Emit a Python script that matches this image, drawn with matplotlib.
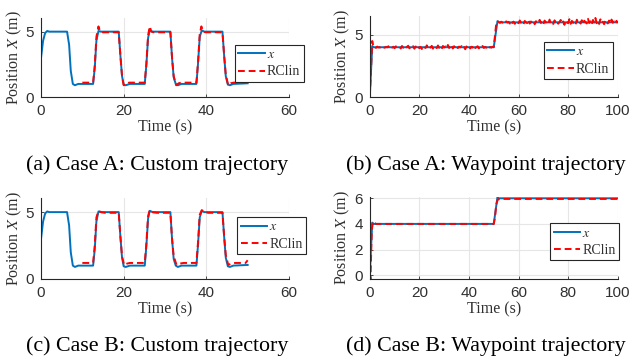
import numpy as np
import matplotlib.pyplot as plt

plt.rcParams['mathtext.fontset'] = 'stix'

BLUE = '#0072BD'
RED = '#FF0000'

# ---- custom trajectory (cases A and B), breakpoints
t_custom = [0, 0.5, 1, 1.5, 2, 3, 6.3, 6.8, 7.2, 7.7, 8.2, 9, 12.6, 13.0, 13.4, 13.9,
            14.5, 15.5, 18.8, 19.2, 19.6, 20.0, 20.5, 21.5, 25.1, 25.5, 25.9, 26.3, 27.0,
            28, 31.3, 31.7, 32.1, 32.6, 33.1, 34, 37.6, 38.0, 38.4, 38.9, 39.5, 40.5,
            43.9, 44.3, 44.7, 45.2, 45.7, 46.5, 50]
x_custom = [3.0, 4.3, 4.9, 5.05, 5.0, 5.0, 5.0, 4.0, 2.0, 1.0, 0.9, 1.0, 1.0, 2.2, 4.3, 5.05,
            5.0, 5.0, 5.0, 3.2, 1.6, 0.95, 0.9, 1.0, 1.0, 2.5, 4.5, 5.1,
            5.0, 5.0, 5.0, 3.0, 1.5, 1.0, 0.9, 1.0, 1.0, 2.6, 4.6, 5.1, 5.0, 5.0,
            5.0, 3.2, 1.6, 0.95, 0.9, 1.0, 1.05]

t_rc_a = [10, 12.6, 13.0, 13.4, 13.9, 14.3, 15, 18.8, 19.2, 19.6, 20.0, 20.6, 21.3, 25.1,
          25.5, 25.9, 26.3, 26.7, 27.3, 31.3, 31.7, 32.1, 32.7, 33.3, 34, 37.6, 38.0, 38.4,
          38.8, 39.2, 39.9, 43.9, 44.3, 44.7, 45.3, 45.9, 46.6, 49.6]
x_rc_a = [1.1, 1.1, 2.4, 4.6, 5.4, 5.0, 4.95, 4.95, 3.2, 1.6, 0.9, 1.0, 1.1, 1.1,
          2.6, 4.7, 5.4, 5.0, 4.95, 4.95, 3.0, 1.6, 0.9, 1.05, 1.1, 1.1, 2.7, 4.8,
          5.4, 5.0, 4.95, 4.95, 3.2, 1.7, 0.9, 1.05, 1.1, 1.1]

t_rc_c = [10, 12.6, 13.0, 13.4, 13.9, 14.5, 15.5, 18.8, 19.2, 19.6, 20.1, 20.8, 21.5, 25.1,
          25.5, 25.9, 26.3, 27.0, 28, 31.3, 31.7, 32.1, 32.8, 33.6, 34.5, 37.6, 38.0, 38.4,
          38.9, 39.6, 40.5, 43.9, 44.3, 44.7, 45.3, 46.0, 47, 49.5, 50]
x_rc_c = [1.2, 1.2, 2.5, 4.6, 5.1, 5.0, 4.95, 4.95, 3.2, 1.7, 1.05, 1.15, 1.2, 1.2,
          2.7, 4.7, 5.15, 5.0, 4.95, 4.95, 3.0, 1.7, 1.05, 1.15, 1.2, 1.2, 2.8, 4.8,
          5.15, 5.0, 4.95, 4.95, 3.2, 1.8, 1.05, 1.15, 1.2, 1.2, 1.4]

# ---- waypoint trajectory
t_way = [0, 1, 1.5, 50, 51.5, 52, 100]
x_way = [0, 4.1, 4.0, 4.0, 6.1, 6.0, 6.0]

# case A RClin: jittery around the waypoints (sampled every 0.5 s)
rc_b_seg1 = [4.02, 3.95, 4.05, 3.98, 4.00, 3.93, 4.06, 4.01, 3.96, 4.03,
             3.99, 4.08, 3.94, 4.02, 3.97, 4.04, 3.92, 4.07, 4.00, 3.95,
             4.03, 3.90, 4.10, 3.96, 4.05, 3.93, 4.02, 4.12, 3.91, 4.04,
             3.97, 4.08, 3.88, 4.06, 3.99, 4.13, 3.92, 4.03, 3.86, 4.09,
             4.01, 3.94, 4.15, 3.90, 4.05, 3.97, 4.11, 3.89, 4.02, 4.07,
             3.93, 4.14, 3.95, 4.04, 3.87, 4.10, 3.98, 4.06, 3.91, 4.18,
             3.94, 4.03, 4.21, 3.90, 4.08, 3.96, 4.12, 3.93, 4.05, 3.99,
             4.09, 3.92, 4.02, 3.84, 4.06, 3.95, 4.11, 3.90, 4.04, 3.97,
             4.13, 3.93, 4.01, 4.08, 3.91, 4.05, 3.98, 4.10, 3.94, 4.03,
             3.96, 4.07, 3.92, 4.02, 3.97, 4.04]
rc_b_seg2 = [6.02, 5.96, 6.05, 5.98, 6.03, 5.92, 6.08, 5.99, 6.04, 5.90,
             6.12, 5.95, 6.06, 5.88, 6.10, 6.01, 5.93, 6.15, 5.97, 6.04,
             5.86, 6.11, 6.00, 5.94, 6.18, 5.90, 6.07, 5.97, 6.13, 5.85,
             6.09, 6.02, 5.92, 6.20, 5.95, 6.06, 5.83, 6.14, 5.99, 6.08,
             5.91, 6.22, 5.94, 6.05, 5.87, 6.16, 5.98, 6.10, 5.89, 6.03,
             6.19, 5.92, 6.07, 5.80, 6.15, 6.00, 5.93, 6.25, 5.88, 6.12,
             5.96, 6.06, 5.84, 6.21, 5.97, 6.09, 5.90, 6.17, 5.86, 6.13,
             6.02, 5.91, 6.28, 5.95, 6.08, 5.82, 6.19, 5.99, 6.35, 5.93,
             6.11, 5.87, 6.24, 5.96, 6.05, 5.85, 6.18, 6.00, 5.91, 6.14,
             5.88, 6.22, 5.97, 6.07, 5.90, 6.12, 5.95]
t_rc_b = [0, 1, 1.5] + list(np.arange(2, 50, 0.5)) + [50, 51, 51.5] + list(np.arange(52, 100.5, 0.5))
x_rc_b = [0, 4.5, 4.0] + rc_b_seg1 + [4.0, 5.9, 6.1] + rc_b_seg2

# case B RClin: smooth
t_rc_d = [0, 0.3, 0.8, 1.3, 1.8, 2.5, 50, 50.5, 51, 51.5, 52, 53, 100]
x_rc_d = [0, -0.3, 3.5, 4.2, 4.1, 4.0, 4.0, 4.5, 5.5, 5.85, 5.93, 5.95, 5.95]

fig = plt.figure(figsize=(6.31, 3.58), dpi=100)

TXT = '#303030'

panels = [
    # rect, xlim, ylim, xticks, yticks, data, legend anchor, caption, caption pos
    ([0.065, 0.729, 0.393, 0.221], (0, 60), (0, 6.05), [0, 20, 40, 60], [0, 5],
     (t_custom, x_custom, t_rc_a, x_rc_a), (0.372, 0.875),
     '(a) Case A: Custom trajectory', (0.249, 0.539)),
    ([0.586, 0.729, 0.393, 0.226], (0, 100), (0, 6.5), [0, 20, 40, 60, 80, 100], [0, 5],
     (t_way, x_way, t_rc_b, x_rc_b), (0.862, 0.883),
     '(b) Case A: Waypoint trajectory', (0.770, 0.539)),
    ([0.065, 0.2207, 0.393, 0.226], (0, 60), (0, 6.05), [0, 20, 40, 60], [0, 5],
     (t_custom, x_custom, t_rc_c, x_rc_c), (0.376, 0.394),
     '(c) Case B: Custom trajectory', (0.249, 0.034)),
    ([0.586, 0.2207, 0.393, 0.229], (0, 100), (-0.3, 6.1), [0, 20, 40, 60, 80, 100], [0, 2, 4, 6],
     (t_way, x_way, t_rc_d, x_rc_d), (0.872, 0.377),
     '(d) Case B: Waypoint trajectory', (0.770, 0.034)),
]

for rect, xlim, ylim, xt, yt, (tx, xx, tr, xr), leg_pos, cap, cap_pos in panels:
    ax = fig.add_axes(rect)
    ax.plot(tx, xx, color=BLUE, lw=1.4, label='$x$')
    ax.plot(tr, xr, color=RED, lw=1.4, ls=(0, (3.5, 2)), label='RClin')
    ax.set_xlim(*xlim)
    ax.set_ylim(*ylim)
    ax.set_xticks(xt)
    ax.set_yticks(yt)
    ax.grid(True, color='#e6e6e6', lw=0.8)
    ax.set_axisbelow(True)
    for s in ['top', 'right']:
        ax.spines[s].set_visible(False)
    for s in ['left', 'bottom']:
        ax.spines[s].set_color('#262626')
        ax.spines[s].set_linewidth(0.8)
    ax.tick_params(direction='in', length=2.5, width=0.6, colors=TXT,
                   labelsize=11, pad=5)
    for lab in ax.get_xticklabels() + ax.get_yticklabels():
        lab.set_fontfamily('Liberation Sans')
    ax.set_xlabel('Time (s)', family='Liberation Serif', fontsize=11.5, color=TXT, labelpad=1)
    ax.set_ylabel('Position $X$ (m)', family='Liberation Serif', fontsize=11.5, color=TXT)
    ax.yaxis.set_label_coords(-0.07, 0.5)
    leg = ax.legend(loc='upper left', bbox_to_anchor=leg_pos, bbox_transform=fig.transFigure,
                    borderaxespad=0, fancybox=False, framealpha=1, edgecolor='#262626',
                    prop={'family': 'Liberation Serif', 'size': 10}, handlelength=1.9,
                    handletextpad=0.15, borderpad=0.25, labelspacing=0.3)
    leg.get_frame().set_linewidth(0.8)
    for t in leg.get_texts():
        t.set_color(TXT)
    fig.text(cap_pos[0], cap_pos[1], cap, ha='center', va='center',
             family='Liberation Serif', fontsize=15.8)

fig.savefig('out.png', dpi=100)
